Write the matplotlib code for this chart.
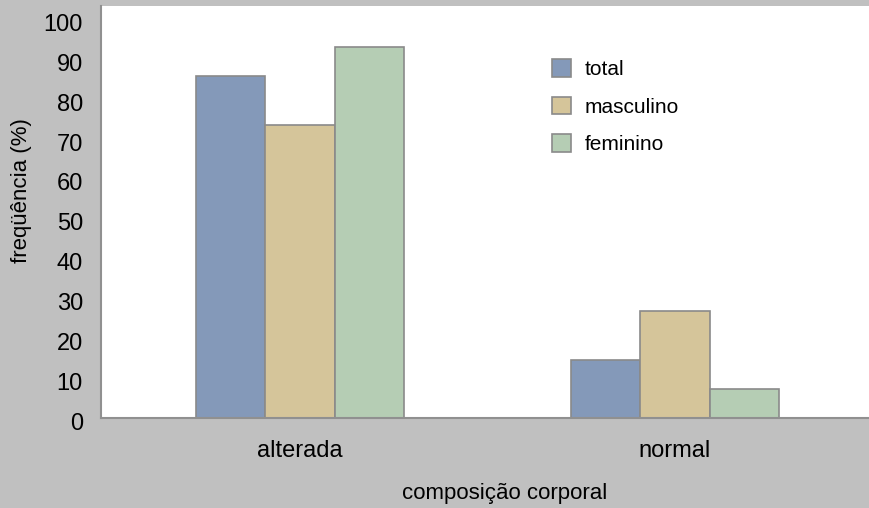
import matplotlib.pyplot as plt
import matplotlib.transforms as mtransforms
import numpy as np

categories = ['alterada', 'normal']
series = ['total', 'masculino', 'feminino']
total = [85.5, 14.5]
masculino = [73.3, 26.7]
feminino = [92.8, 7.2]
yticks = [0, 10, 20, 30, 40, 50, 60, 70, 80, 90, 100]

colors = ['#8499b9', '#d5c59a', '#b5cdb4']
edge = '#8a8a8a'
bg = '#c0c0c0'

plt.rcParams['font.family'] = ['Liberation Sans', 'DejaVu Sans']

fig = plt.figure(figsize=(8.7, 5.08), dpi=100, facecolor=bg)
ax = fig.add_axes([101 / 870, 90 / 508, 769 / 870, 412 / 508])
ax.set_facecolor('white')

x = np.arange(len(categories))
w = 0.185
for i, (name, vals) in enumerate(zip(series, [total, masculino, feminino])):
    ax.bar(x + (i - 1) * w, vals, w, color=colors[i], edgecolor=edge,
           linewidth=1.2, label=name, zorder=2)

ax.set_xlim(-0.531, 1.52)
ax.set_ylim(0, 103)
ax.set_yticks(yticks)
ax.set_xticks(x)
ax.set_xticklabels(categories, fontsize=17)
ax.tick_params(axis='y', length=0, pad=13, labelsize=17)
ax.tick_params(axis='x', length=0, pad=16)

# nudge y tick labels slightly downward
offset = mtransforms.ScaledTranslation(0, -4 / 100, fig.dpi_scale_trans)
for lab in ax.get_yticklabels():
    lab.set_transform(lab.get_transform() + offset)

for side in ['top', 'right']:
    ax.spines[side].set_visible(False)
for side in ['left', 'bottom']:
    ax.spines[side].set_color('#909090')
    ax.spines[side].set_linewidth(1.5)

fig.text(22 / 870, 1 - 191 / 508, 'freqüência (%)', rotation=90,
         ha='center', va='center', fontsize=16)
fig.text(505 / 870, 1 - 493 / 508, 'composição corporal',
         ha='center', va='center', fontsize=16)

ax.legend(loc='upper left', bbox_to_anchor=(0.5735, 0.896), frameon=False,
          fontsize=15, borderpad=0, handlelength=0.9, handleheight=0.9,
          handletextpad=0.65, labelspacing=0.85)

fig.savefig('out.png', dpi=100, facecolor=bg)
